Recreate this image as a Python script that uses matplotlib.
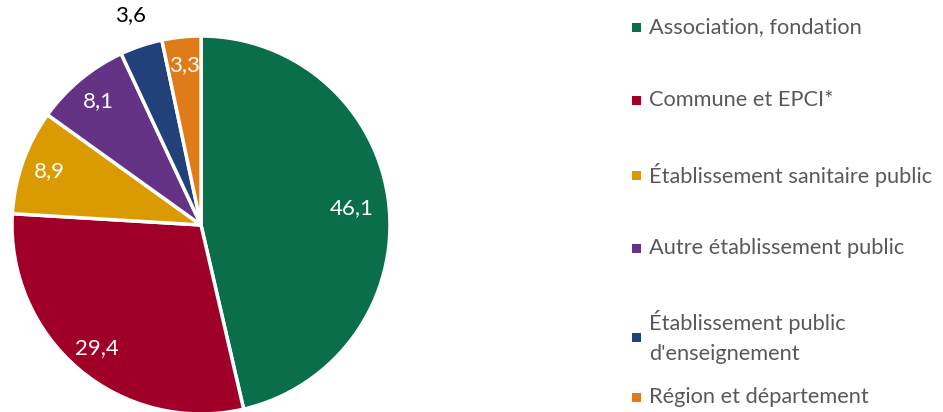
import matplotlib.pyplot as plt
from matplotlib.patches import Rectangle

# data
categories = ['Association, fondation', 'Commune et EPCI*', 'Établissement sanitaire public',
              'Autre établissement public', "Établissement public\nd'enseignement",
              'Région et département']
values = [46.1, 29.4, 8.9, 8.1, 3.6, 3.3]
labels = ['46,1', '29,4', '8,9', '8,1', '3,6', '3,3']
colors = ['#0B6E4A', '#A00028', '#D99B00', '#653385', '#22417A', '#E07B1A']

plt.rcParams['font.family'] = ['Lato', 'DejaVu Sans']

W, H = 943, 412
fig = plt.figure(figsize=(W / 100, H / 100), dpi=100)
ax = fig.add_axes([0, 0, 1, 1])

cx, cy, r = 201, H - 225, 189
wedges, texts, autotexts = ax.pie(values, colors=colors, startangle=90, counterclock=False,
                                  center=(cx, cy), radius=r, autopct='%1.1f', pctdistance=0.85,
                                  wedgeprops=dict(edgecolor='white', linewidth=2.5), frame=True)
ax.set_xlim(0, W)
ax.set_ylim(0, H)
ax.set_aspect('equal')
ax.axis('off')

for i, t in enumerate(autotexts):
    t.set_text(labels[i])
    t.set_color('white')
    t.set_fontsize(16)

def push(t, k):
    x, y = t.get_position()
    t.set_position((cx + (x - cx) * k, cy + (y - cy) * k))

# big slice label sits a bit inward, small slice label goes outside
push(autotexts[0], 0.80 / 0.85)
push(autotexts[4], 1.17 / 0.85)
autotexts[4].set_color('black')

# legend
rows = [27, 100, 175, 248, 337, 397]
for i, (lab, c) in enumerate(zip(categories, colors)):
    y = H - rows[i]
    ax.add_patch(Rectangle((632, y - 4.5), 9, 9, facecolor=c, edgecolor='none'))
    ax.text(649, y, lab, fontsize=15.7, color='#595959', va='center', ha='left', linespacing=1.6)

fig.savefig('out.png', dpi=100)
